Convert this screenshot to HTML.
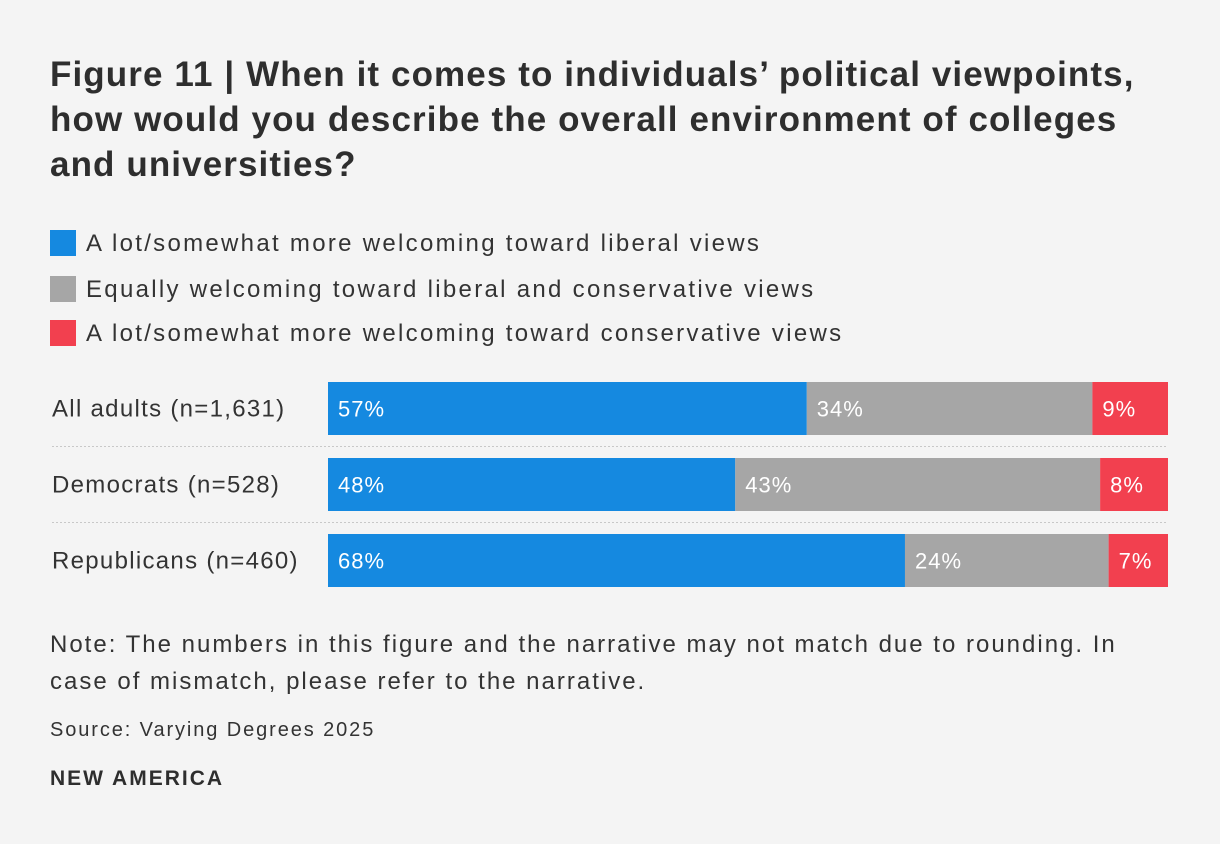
<!DOCTYPE html>
<html><head><meta charset="utf-8"><style>
body{margin:0;background:#f4f4f4;font-family:"Liberation Sans",sans-serif;color:#333;}
#wrap{position:relative;width:1220px;height:844px;overflow:hidden;}
h1{position:absolute;left:50px;top:52px;margin:0;font-size:35px;line-height:45px;font-weight:bold;color:#2e2e2e;width:1160px;letter-spacing:1.1px;white-space:nowrap;}
.leg{position:absolute;left:50px;font-size:24px;color:#333;letter-spacing:2.3px;white-space:nowrap;}
.leg span.sw{display:inline-block;width:26px;height:26px;vertical-align:-5px;margin-right:10px;}
.t{position:absolute;font-size:24px;color:#333;white-space:nowrap;}
</style></head><body>
<div id="wrap">
<h1>Figure 11 | When it comes to individuals’ political viewpoints,<br>how would you describe the overall environment of colleges<br>and universities?</h1>
<div class="leg" style="top:230px"><span class="sw" style="background:#1589e0"></span>A lot/somewhat more welcoming toward liberal views</div>
<div class="leg" style="top:276px"><span class="sw" style="background:#a6a6a6"></span>Equally welcoming toward liberal and conservative views</div>
<div class="leg" style="top:320px"><span class="sw" style="background:#f2404f"></span>A lot/somewhat more welcoming toward conservative views</div>
<svg id="chart" width="1220" height="844" style="position:absolute;left:0;top:0"></svg>
<div class="t" style="left:50px;top:626px;line-height:37px;letter-spacing:2px">Note: The numbers in this figure and the narrative may not match due to rounding. In<br>case of mismatch, please refer to the narrative.</div>
<div class="t" style="left:50px;top:719px;font-size:20px;letter-spacing:1.9px">Source: Varying Degrees 2025</div>
<div class="t" style="left:50px;top:767px;font-size:21px;font-weight:bold;color:#2e2e2e;letter-spacing:2px">NEW AMERICA</div>
</div>
<script>
const categories=["All adults (n=1,631)","Democrats (n=528)","Republicans (n=460)"];
const liberal=[57,48,68];
const equal=[34,43,24];
const conservative=[9,8,7];
const series=[liberal,equal,conservative];
const seriesNames=["liberal","equal","conservative"];
const colors=["#1589e0","#a6a6a6","#f2404f"];
const svg=document.getElementById('chart');
const NS="http://www.w3.org/2000/svg";
const x0=328,W=840,y0=382,bh=53,step=76;
function yPos(i){return y0+i*step;}
categories.forEach((c,i)=>{
  const tot=series.reduce((s,a)=>s+a[i],0);
  const xs=v=>v/tot*W;
  const y=yPos(i);
  const lab=document.createElementNS(NS,'text');
  lab.setAttribute('x',52);lab.setAttribute('y',y+bh/2+8);
  lab.setAttribute('font-size','24');lab.setAttribute('fill','#333');
  lab.setAttribute('letter-spacing','1.3');
  lab.setAttribute('font-family','Liberation Sans, sans-serif');
  lab.textContent=c;
  
  
  svg.appendChild(lab);
  let cx=x0;
  series.forEach((s,k)=>{
    const w=xs(s[i]);
    const r=document.createElementNS(NS,'rect');
    r.setAttribute('x',cx);r.setAttribute('y',y);r.setAttribute('width',w);r.setAttribute('height',bh);
    r.setAttribute('fill',colors[k]);
    
    
    svg.appendChild(r);
    const t=document.createElementNS(NS,'text');
    t.setAttribute('x',cx+10);t.setAttribute('y',y+bh/2+8);
    t.setAttribute('font-size','22');t.setAttribute('fill','#fff');
    t.setAttribute('letter-spacing','1');
    t.setAttribute('font-family','Liberation Sans, sans-serif');
    t.textContent=s[i]+'%';
    
    
    svg.appendChild(t);
    cx+=w;
  });
  if(i<categories.length-1){
    const l=document.createElementNS(NS,'line');
    const ly=y+bh+(step-bh)/2;
    l.setAttribute('x1',52);l.setAttribute('x2',1168);l.setAttribute('y1',ly);l.setAttribute('y2',ly);
    l.setAttribute('stroke','#c8c8c8');l.setAttribute('stroke-dasharray','2,2');
    
    
    svg.appendChild(l);
  }
});
</script>
</body></html>
